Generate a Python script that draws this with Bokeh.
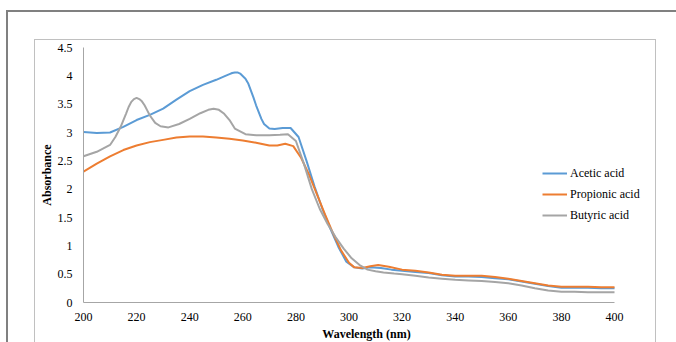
from bokeh.plotting import figure
from bokeh.layouts import column
from bokeh.models import Range1d, FixedTicker, NumeralTickFormatter, Legend, LegendItem
from bokeh.embed import file_html
from bokeh.resources import INLINE

acetic_x = [200, 205, 210, 215, 220, 225, 230, 235, 240, 245, 250, 253, 255, 256, 257, 258, 259, 261, 262, 264,
            265, 267, 268, 270, 272, 275, 278, 281, 284, 287, 290, 293, 296, 299, 302, 305, 308, 312, 316, 320,
            325, 330, 335, 340, 345, 350, 355, 360, 365, 370, 375, 380, 385, 390, 395, 400]
acetic_y = [3.01, 2.99, 3.00, 3.10, 3.22, 3.31, 3.42, 3.58, 3.73, 3.84, 3.93, 3.99, 4.03, 4.05, 4.06, 4.06, 4.04, 3.95, 3.87, 3.62,
            3.48, 3.24, 3.15, 3.07, 3.06, 3.08, 3.08, 2.92, 2.50, 2.05, 1.65, 1.30, 0.98, 0.72, 0.62, 0.60, 0.62, 0.61, 0.58, 0.56,
            0.54, 0.52, 0.48, 0.46, 0.46, 0.45, 0.43, 0.41, 0.37, 0.33, 0.29, 0.26, 0.26, 0.26, 0.25, 0.25]

propionic_x = [200, 205, 210, 215, 220, 225, 230, 235, 240, 245, 250, 255, 260, 265, 270, 273, 276, 279, 282, 285,
               288, 291, 294, 297, 300, 302, 305, 308, 311, 315, 320, 325, 330, 335, 340, 345, 350, 355, 360, 365,
               370, 375, 380, 385, 390, 395, 400]
propionic_y = [2.31, 2.45, 2.58, 2.69, 2.77, 2.83, 2.87, 2.91, 2.93, 2.93, 2.91, 2.89, 2.86, 2.82, 2.77, 2.77, 2.80, 2.76, 2.55, 2.25,
               1.90, 1.55, 1.22, 0.92, 0.70, 0.62, 0.61, 0.64, 0.66, 0.63, 0.58, 0.56, 0.53, 0.49, 0.47, 0.47, 0.47, 0.45, 0.42, 0.38,
               0.34, 0.30, 0.28, 0.28, 0.28, 0.27, 0.27]

butyric_x = [200, 205, 210, 212, 214, 216, 217, 218, 219, 220, 221, 222, 223, 224, 225, 227, 229, 232, 236, 240,
             244, 247, 249, 251, 253, 255, 257, 261, 265, 270, 274, 277, 280, 283, 286, 289, 292, 295, 298, 301,
             304, 307, 310, 313, 317, 320, 325, 330, 335, 340, 345, 350, 355, 360, 365, 370, 375, 380, 385, 390,
             395, 400]
butyric_y = [2.58, 2.66, 2.78, 2.92, 3.10, 3.33, 3.45, 3.54, 3.59, 3.61, 3.59, 3.55, 3.48, 3.39, 3.30, 3.17, 3.11, 3.09, 3.15, 3.24,
             3.34, 3.40, 3.42, 3.40, 3.33, 3.22, 3.07, 2.97, 2.95, 2.95, 2.96, 2.97, 2.85, 2.45, 2.00, 1.65, 1.38, 1.15, 0.95, 0.78,
             0.66, 0.58, 0.55, 0.53, 0.51, 0.50, 0.47, 0.44, 0.42, 0.40, 0.39, 0.38, 0.36, 0.34, 0.30, 0.25, 0.21, 0.19, 0.19, 0.18,
             0.18, 0.18]

x_ticks = [200, 220, 240, 260, 280, 300, 320, 340, 360, 380, 400]
y_ticks = [0, 0.5, 1, 1.5, 2, 2.5, 3, 3.5, 4, 4.5]

SERIF = "Liberation Serif"
X_END = 200 + 566 * 200 / 531  # frame extends right to leave room for the legend

p = figure(width=622, height=310, output_backend="svg", toolbar_location=None,
           x_range=Range1d(200, X_END), y_range=Range1d(0, 4.5),
           min_border_left=48, min_border_right=8, min_border_top=7, min_border_bottom=48,
           styles={"border-top": "1px solid #c0c0c0", "border-left": "1px solid #c0c0c0",
                   "border-right": "1px solid #c0c0c0"})
p.outline_line_color = None
p.xgrid.visible = False
p.ygrid.visible = False
p.background_fill_color = "white"
p.border_fill_color = "white"

r1 = p.line(acetic_x, acetic_y, line_color="#5B9BD5", line_width=2)
r2 = p.line(propionic_x, propionic_y, line_color="#ED7D31", line_width=2)
r3 = p.line(butyric_x, butyric_y, line_color="#A5A5A5", line_width=2)

for ax in (p.xaxis[0], p.yaxis[0]):
    ax.axis_line_color = "#a6a6a6"
    ax.major_tick_line_color = None
    ax.minor_tick_line_color = None
    ax.major_tick_out = 0
    ax.major_tick_in = 0
    ax.minor_tick_out = 0
    ax.minor_tick_in = 0
    ax.major_label_text_font = SERIF
    ax.major_label_text_font_size = "12px"
    ax.major_label_text_color = "#000000"
    ax.axis_label_text_font = SERIF
    ax.axis_label_text_font_style = "bold"
    ax.axis_label_text_font_size = "12px"
    ax.axis_label_text_color = "#000000"

p.xaxis[0].bounds = (200, 400)
p.xaxis[0].ticker = FixedTicker(ticks=x_ticks)
p.yaxis[0].ticker = FixedTicker(ticks=y_ticks)
p.yaxis[0].formatter = NumeralTickFormatter(format="0.[0]")
p.xaxis[0].axis_label = "Wavelength (nm)"
p.yaxis[0].axis_label = "Absorbance"
p.xaxis[0].major_label_standoff = 10
p.yaxis[0].major_label_standoff = 11
p.xaxis[0].axis_label_standoff = 3
p.yaxis[0].axis_label_standoff = 1

legend = Legend(items=[LegendItem(label="Acetic acid", renderers=[r1]),
                       LegendItem(label="Propionic acid", renderers=[r2]),
                       LegendItem(label="Butyric acid", renderers=[r3])],
                location=(459, 77), orientation="vertical")
legend.border_line_color = None
legend.background_fill_alpha = 0
legend.padding = 0
legend.margin = 0
legend.spacing = 1
legend.glyph_width = 25
legend.glyph_height = 20
legend.label_height = 20
legend.label_standoff = 3
legend.label_text_font = SERIF
legend.label_text_font_size = "12px"
legend.label_text_color = "#000000"
p.add_layout(legend, "center")

page = column(p, styles={"margin-left": "6px", "margin-top": "10px",
                         "border-top": "2px solid #808080", "border-left": "2px solid #808080",
                         "padding-left": "26px", "padding-top": "27px", "padding-right": "30px"})

open("out.html", "w").write(file_html(page, INLINE))
